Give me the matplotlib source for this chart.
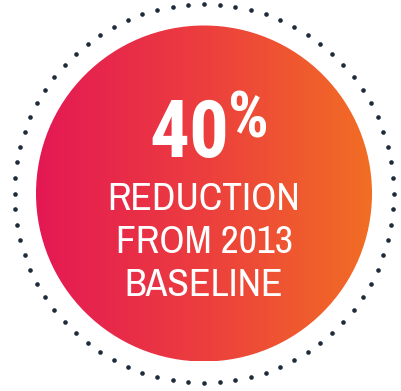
import numpy as np
import matplotlib
matplotlib.use("Agg")
import matplotlib.pyplot as plt
from matplotlib.patches import Circle

# data
value_pct = 40
value_label = "40"
pct_sign = "%"
caption_lines = ["REDUCTION", "FROM 2013", "BASELINE"]
n_dots = 76

FONT_BIG = ["Roboto Condensed", "DejaVu Sans"]
FONT_CAP = ["Archivo Narrow", "Roboto Condensed", "DejaVu Sans"]

W, H = 401, 391
fig = plt.figure(figsize=(W / 100, H / 100), dpi=100)
ax = fig.add_axes([0, 0, 1, 1])
ax.set_xlim(0, W)
ax.set_ylim(H, 0)
ax.axis("off")

cx, cy, r = 204, 193.5, 168
# gradient
c_left = np.array([228, 24, 84]) / 255
c_mid = np.array([236, 62, 62]) / 255
c_right = np.array([242, 110, 36]) / 255
t = np.linspace(0, 1, 400)
cols = np.where(t[:, None] < 0.5,
                c_left + (c_mid - c_left) * (t[:, None] / 0.5),
                c_mid + (c_right - c_mid) * ((t[:, None] - 0.5) / 0.5))
img = np.tile(cols[None, :, :], (10, 1, 1))
im = ax.imshow(img, extent=[cx - r, cx + r, cy + r, cy - r], aspect="auto", zorder=1)
clip = Circle((cx, cy), r, transform=ax.transData, facecolor="none", edgecolor="none")
ax.add_patch(clip)
im.set_clip_path(clip)

# dotted ring
R = 189.5
ang = np.linspace(0, 2 * np.pi, n_dots, endpoint=False)
ax.scatter(cx + R * np.cos(ang), cy + R * np.sin(ang), s=11, color="#1e2b3a", zorder=2, linewidths=0)

ax.text(229, 157, value_label, color="white", fontsize=57, fontweight="bold",
        family=FONT_BIG, ha="right", va="baseline", zorder=3)
ax.text(228, 138, pct_sign, color="white", fontsize=46, fontweight="bold",
        family=FONT_BIG, ha="left", va="baseline", zorder=3)
for line, yb in zip(caption_lines, [210, 253, 296]):
    ax.text(204, yb, line, color="white", fontsize=28.5, family=FONT_CAP,
            ha="center", va="baseline", zorder=3)

fig.savefig("out.png", dpi=100, facecolor="white")
